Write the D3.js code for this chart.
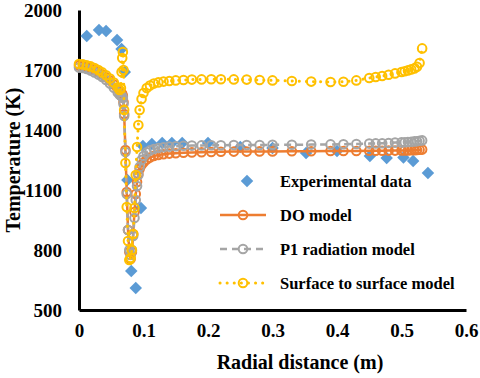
<!DOCTYPE html>
<html>
<head>
<meta charset="utf-8">
<script src="https://cdn.jsdelivr.net/npm/d3@7"></script>
<style>
  body { margin: 0; background: #fff; }
</style>
</head>
<body>
<div id="vis"></div>
<script>
// experimental measurements
const expRadius = [0.012, 0.031, 0.042, 0.059, 0.066, 0.071, 0.075, 0.081, 0.088, 0.096, 0.099, 0.113, 0.129, 0.144, 0.160, 0.200, 0.250, 0.300, 0.352, 0.400, 0.451, 0.477, 0.503, 0.518, 0.541];
const expTemp = [1870, 1900, 1895, 1850, 1805, 1690, 1150, 695, 610, 1010, 1320, 1330, 1335, 1335, 1335, 1335, 1315, 1310, 1285, 1295, 1270, 1260, 1262, 1245, 1185];

// CFD nodes shared by the three models
const radius = [0, 0.006, 0.012, 0.018, 0.024, 0.030, 0.036, 0.042, 0.048, 0.054,
  0.060, 0.063, 0.065, 0.066, 0.067, 0.068, 0.069, 0.070, 0.072, 0.074,
  0.076, 0.078, 0.080, 0.082, 0.084, 0.086, 0.088, 0.090, 0.092, 0.094,
  0.097, 0.100, 0.105, 0.110, 0.116, 0.123, 0.131, 0.140, 0.150, 0.162,
  0.175, 0.190, 0.205, 0.220, 0.240, 0.260, 0.280, 0.300, 0.330, 0.360,
  0.390, 0.410, 0.430, 0.450, 0.460, 0.470, 0.480, 0.490, 0.500, 0.505,
  0.510, 0.515, 0.520, 0.524, 0.528, 0.532];

const doTemp = [1722, 1720, 1715, 1708, 1700, 1690, 1678, 1664, 1647, 1627,
  1604, 1592, 1586, 1584, 1580, 1570, 1540, 1480, 1300, 1090,
  900, 790, 755, 790, 880, 990, 1080, 1140, 1180, 1205,
  1225, 1238, 1252, 1262, 1270, 1275, 1279, 1282, 1284, 1286,
  1288, 1289, 1290, 1291, 1292, 1292, 1293, 1293, 1294, 1294,
  1295, 1295, 1295, 1296, 1296, 1296, 1297, 1297, 1298, 1298,
  1298, 1299, 1299, 1300, 1301, 1302];

const p1Temp = [1712, 1710, 1705, 1697, 1688, 1677, 1665, 1650, 1632, 1611,
  1588, 1576, 1571, 1570, 1568, 1560, 1530, 1470, 1290, 1080,
  900, 800, 775, 800, 870, 960, 1050, 1120, 1175, 1215,
  1250, 1270, 1288, 1298, 1305, 1310, 1314, 1317, 1319, 1321,
  1322, 1323, 1324, 1324, 1325, 1325, 1325, 1326, 1326, 1327,
  1328, 1329, 1330, 1332, 1333, 1334, 1335, 1337, 1338, 1339,
  1340, 1341, 1343, 1344, 1346, 1348];

const s2sTemp = [1730, 1728, 1724, 1718, 1710, 1700, 1688, 1674, 1657, 1637,
  1614, 1600, 1610, 1690, 1760, 1790, 1700, 1500, 1235, 1015,
  845, 750, 760, 800, 880, 1010, 1175, 1315, 1425, 1500,
  1555, 1585, 1610, 1622, 1632, 1638, 1642, 1645, 1648, 1650,
  1652, 1653, 1654, 1654, 1653, 1652, 1650, 1648, 1645, 1642,
  1640, 1641, 1648, 1660, 1665, 1670, 1676, 1683, 1690, 1694,
  1698, 1703, 1708, 1716, 1735, 1808];

const xTicks = [0, 0.1, 0.2, 0.3, 0.4, 0.5, 0.6];
const yTicks = [500, 800, 1100, 1400, 1700, 2000];

const FONT = '"Liberation Serif", "Times New Roman", "DejaVu Serif", serif';

const W = 480, H = 378;
const svg = d3.select("#vis").append("svg")
  .attr("width", W).attr("height", H)
  .style("font-family", FONT);

const x = d3.scaleLinear().domain([0, 0.6]).range([79, 466]);
const y = d3.scaleLinear().domain([500, 2000]).range([310, 10]);

// Axes
const xAxis = svg.append("g")
  .attr("transform", `translate(0,${y(500)})`)
  .call(d3.axisBottom(x).tickValues(xTicks).tickSize(0).tickSizeOuter(0).tickPadding(14)
    .tickFormat(d => d === 0 ? "0" : d3.format(".1f")(d)));
const yAxis = svg.append("g")
  .attr("transform", `translate(${x(0)},0)`)
  .call(d3.axisLeft(y).tickValues(yTicks).tickSize(0).tickSizeOuter(0).tickPadding(17)
    .tickFormat(d3.format("d")));
[xAxis, yAxis].forEach(a => {
  a.attr("font-family", FONT).attr("font-size", 19).attr("font-weight", "bold");
  a.select(".domain").attr("stroke", "#000").attr("stroke-width", 3);
  a.selectAll("text").attr("fill", "#000");
});

svg.append("text")
  .attr("x", 300).attr("y", 369)
  .attr("text-anchor", "middle")
  .attr("font-family", FONT).attr("font-weight", "bold")
  .style("font-size", "20px")
  .text("Radial distance (m)");

svg.append("text")
  .attr("transform", "translate(20,160) rotate(-90)")
  .attr("text-anchor", "middle")
  .attr("font-family", FONT).attr("font-weight", "bold")
  .style("font-size", "20px")
  .text("Temperature (K)");

// Experimental diamonds (drawn first, below model curves)
const diamond = d3.symbol().type(d3.symbolSquare).size(78);
svg.append("g").selectAll("path")
  .data(expRadius.map((r, i) => [r, expTemp[i]]))
  .join("path")
  .attr("d", diamond)
  .attr("transform", d => `translate(${x(d[0])},${y(d[1])}) rotate(45)`)
  .attr("fill", "#5B9BD5");

const models = [
  { name: "DO model", temps: doTemp, color: "#ED7D31", dash: null, cap: "butt" },
  { name: "P1 radiation model", temps: p1Temp, color: "#A5A5A5", dash: "7,5", cap: "butt" },
  { name: "Surface to surface model", temps: s2sTemp, color: "#FFC000", dash: "0.1,7", cap: "round" }
];

const line = d3.line().x(d => x(d[0])).y(d => y(d[1]));

models.forEach(m => {
  const pts = radius.map((r, i) => [r, m.temps[i]]);
  svg.append("path")
    .datum(pts)
    .attr("fill", "none")
    .attr("stroke", m.color)
    .attr("stroke-width", m.cap === "round" ? 3 : 2.5)
    .attr("stroke-dasharray", m.dash)
    .attr("stroke-linecap", m.cap)
    .attr("d", line);
  svg.append("g").selectAll("circle")
    .data(pts)
    .join("circle")
    .attr("cx", d => x(d[0]))
    .attr("cy", d => y(d[1]))
    .attr("r", 4.3)
    .attr("fill", "none")
    .attr("stroke", m.color)
    .attr("stroke-width", 2);
});

// Legend
const legend = svg.append("g")
  .attr("font-family", FONT).attr("font-weight", "bold").attr("font-size", 16.5);
legend.append("path")
  .attr("d", diamond)
  .attr("transform", "translate(247,181) rotate(45)")
  .attr("fill", "#5B9BD5");
legend.append("text").attr("x", 280).attr("y", 187).text("Experimental data");

models.forEach((m, i) => {
  const ly = 215 + i * 34;
  legend.append("line")
    .attr("x1", 220).attr("x2", 266).attr("y1", ly).attr("y2", ly)
    .attr("stroke", m.color)
    .attr("stroke-width", m.cap === "round" ? 3 : 2.5)
    .attr("stroke-dasharray", m.dash)
    .attr("stroke-linecap", m.cap);
  legend.append("circle")
    .attr("cx", 243).attr("cy", ly).attr("r", 4.3)
    .attr("fill", "none").attr("stroke", m.color).attr("stroke-width", 2);
  legend.append("text").attr("x", 280).attr("y", ly + 6).text(m.name);
});
</script>
</body>
</html>
